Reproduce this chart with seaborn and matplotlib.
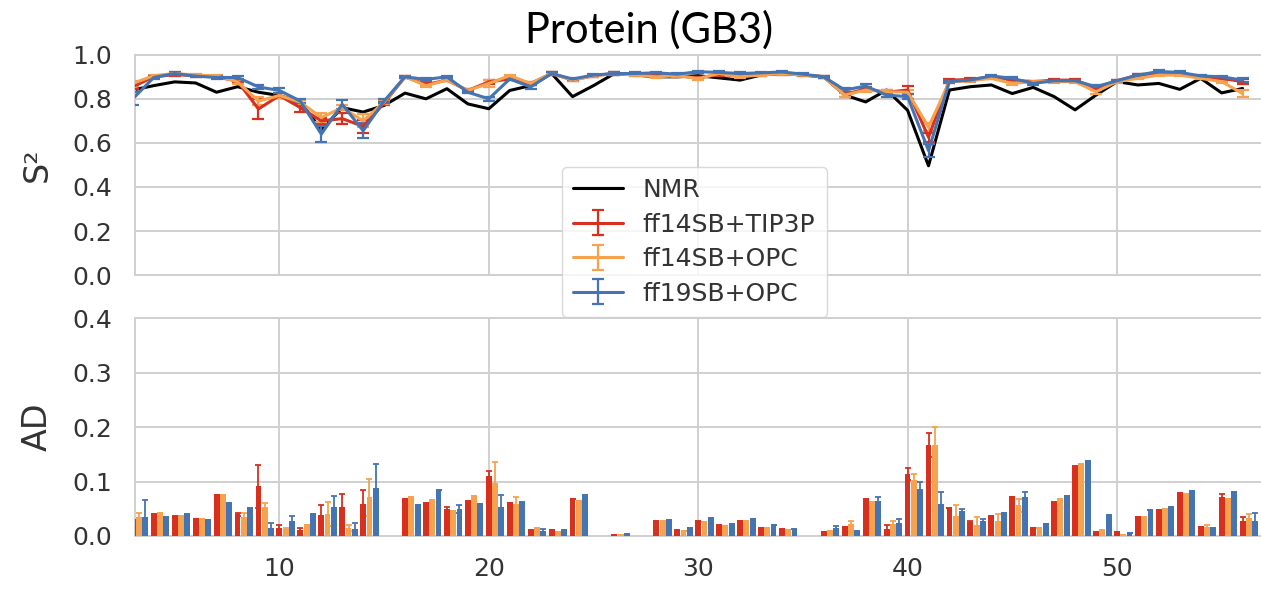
import numpy as np
import pandas as pd
import matplotlib
matplotlib.use("Agg")
import matplotlib.pyplot as plt
import seaborn as sns

# ---------------- data ----------------
residues = list(range(3, 57))

s2_nmr = [0.84, 0.86, 0.877, 0.872, 0.83, 0.855, 0.83, 0.815, 0.785, 0.66,
          0.76, 0.74, 0.77, 0.826, 0.80, 0.846, 0.777, 0.755, 0.838, 0.86,
          0.915, 0.81, 0.86, 0.915, 0.908, 0.90, 0.90, 0.905, 0.895, 0.885,
          0.908, 0.915, 0.908, 0.90, 0.817, 0.786, 0.84, 0.748, 0.496, 0.84,
          0.855, 0.863, 0.824, 0.852, 0.81, 0.75, 0.817, 0.878, 0.863, 0.87,
          0.843, 0.893, 0.827, 0.847]
s2_tip3p = [0.855, 0.90, 0.91, 0.905, 0.90, 0.88, 0.754, 0.815, 0.76, 0.70,
            0.71, 0.675, 0.78, 0.90, 0.865, 0.885, 0.838, 0.877, 0.89, 0.87,
            0.915, 0.885, 0.905, 0.915, 0.91, 0.905, 0.905, 0.895, 0.91, 0.905,
            0.91, 0.915, 0.908, 0.90, 0.82, 0.845, 0.83, 0.84, 0.626, 0.885,
            0.888, 0.90, 0.885, 0.878, 0.885, 0.885, 0.848, 0.882, 0.908, 0.915,
            0.915, 0.90, 0.893, 0.878]
s2_opc14 = [0.87, 0.905, 0.915, 0.908, 0.905, 0.877, 0.79, 0.815, 0.785, 0.715,
            0.76, 0.70, 0.785, 0.90, 0.86, 0.885, 0.838, 0.87, 0.905, 0.87,
            0.915, 0.885, 0.905, 0.915, 0.908, 0.90, 0.905, 0.892, 0.915, 0.90,
            0.908, 0.915, 0.908, 0.90, 0.817, 0.84, 0.832, 0.83, 0.672, 0.878,
            0.882, 0.893, 0.87, 0.878, 0.878, 0.878, 0.832, 0.878, 0.893, 0.908,
            0.908, 0.893, 0.878, 0.824]
s2_opc19 = [0.80, 0.897, 0.915, 0.903, 0.897, 0.897, 0.854, 0.838, 0.79, 0.64,
            0.775, 0.655, 0.79, 0.90, 0.888, 0.90, 0.83, 0.80, 0.89, 0.854,
            0.915, 0.89, 0.908, 0.915, 0.915, 0.918, 0.912, 0.923, 0.92, 0.915,
            0.918, 0.922, 0.912, 0.90, 0.84, 0.858, 0.817, 0.81, 0.565, 0.878,
            0.885, 0.904, 0.893, 0.87, 0.882, 0.882, 0.855, 0.882, 0.908, 0.924,
            0.92, 0.904, 0.90, 0.885]

s2_err_tip3p = [0.01, 0.005, 0.005, 0.005, 0.005, 0.005, 0.045, 0.01, 0.02, 0.015,
                0.025, 0.03, 0.01, 0.005, 0.005, 0.005, 0.005, 0.01, 0.005, 0.005,
                0.005, 0.005, 0.005, 0.005, 0.005, 0.005, 0.005, 0.005, 0.005, 0.005,
                0.005, 0.005, 0.005, 0.005, 0.01, 0.01, 0.01, 0.02, 0.02, 0.005,
                0.005, 0.005, 0.005, 0.005, 0.005, 0.005, 0.01, 0.005, 0.005, 0.005,
                0.005, 0.005, 0.005, 0.01]
s2_err_opc14 = [0.01, 0.005, 0.005, 0.005, 0.005, 0.01, 0.02, 0.01, 0.01, 0.02,
                0.01, 0.03, 0.01, 0.005, 0.005, 0.005, 0.005, 0.015, 0.005, 0.005,
                0.005, 0.005, 0.005, 0.005, 0.005, 0.005, 0.005, 0.005, 0.005, 0.005,
                0.005, 0.005, 0.005, 0.005, 0.01, 0.01, 0.01, 0.01, 0.02, 0.005,
                0.005, 0.005, 0.005, 0.005, 0.005, 0.005, 0.01, 0.005, 0.005, 0.005,
                0.005, 0.005, 0.005, 0.015]
s2_err_opc19 = [0.03, 0.005, 0.005, 0.005, 0.005, 0.005, 0.01, 0.01, 0.01, 0.035,
                0.02, 0.035, 0.01, 0.005, 0.005, 0.005, 0.005, 0.01, 0.005, 0.01,
                0.005, 0.005, 0.005, 0.005, 0.005, 0.005, 0.005, 0.005, 0.005, 0.005,
                0.005, 0.005, 0.005, 0.005, 0.01, 0.01, 0.01, 0.01, 0.03, 0.005,
                0.005, 0.005, 0.005, 0.005, 0.005, 0.005, 0.01, 0.005, 0.005, 0.005,
                0.005, 0.005, 0.005, 0.01]

nan = np.nan
ad_tip3p = [0.03, 0.040, 0.037, 0.031, 0.075, 0.040, 0.091, 0.015, 0.011, 0.038,
            0.053, 0.059, nan, 0.068, 0.060, 0.050, 0.064, 0.111, 0.060, 0.011,
            0.011, 0.067, nan, 0.002, nan, 0.028, 0.011, 0.028, 0.020, 0.028,
            0.015, 0.012, nan, 0.007, 0.017, 0.068, 0.012, 0.113, 0.167, 0.051,
            0.025, 0.037, 0.071, 0.015, 0.062, 0.128, 0.008, 0.008, 0.034, 0.048,
            0.079, 0.017, 0.072, 0.028]
ad_opc14 = [0.034, 0.042, 0.037, 0.031, 0.075, 0.034, 0.054, 0.012, 0.020, 0.040,
            0.015, 0.071, nan, 0.071, 0.066, 0.045, 0.074, 0.098, 0.059, 0.015,
            0.008, 0.064, nan, 0.002, nan, 0.027, 0.009, 0.025, 0.019, 0.027,
            0.015, 0.011, nan, 0.009, 0.022, 0.062, 0.022, 0.102, 0.167, 0.037,
            0.020, 0.028, 0.056, 0.015, 0.068, 0.133, 0.011, 0.001, 0.034, 0.050,
            0.077, 0.017, 0.068, 0.033]
ad_opc19 = [0.034, 0.034, 0.040, 0.030, 0.060, 0.051, 0.015, 0.027, 0.040, 0.054,
            0.012, 0.089, nan, 0.056, 0.084, 0.050, 0.058, 0.054, 0.062, 0.009,
            0.011, 0.075, nan, 0.003, nan, 0.029, 0.015, 0.033, 0.022, 0.032,
            0.020, 0.012, nan, 0.015, 0.009, 0.065, 0.023, 0.087, 0.059, 0.046,
            0.028, 0.043, 0.071, 0.022, 0.074, 0.138, 0.039, 0.005, 0.048, 0.053,
            0.082, 0.015, 0.080, 0.028]

ad_err_tip3p = [0.0, 0.0, 0.0, 0.0, 0.0, 0.003, 0.039, 0.006, 0.004, 0.018,
                0.024, 0.026, nan, 0.0, 0.0, 0.003, 0.0, 0.008, 0.0, 0.0,
                0.0, 0.0, nan, 0.0, nan, 0.0, 0.0, 0.0, 0.0, 0.0,
                0.0, 0.0, nan, 0.0, 0.0, 0.0, 0.009, 0.011, 0.022, 0.0,
                0.003, 0.0, 0.0, 0.0, 0.0, 0.0, 0.0, 0.0, 0.0, 0.0,
                0.0, 0.0, 0.005, 0.007]
ad_err_opc14 = [0.009, 0.0, 0.0, 0.0, 0.0, 0.009, 0.007, 0.003, 0.0, 0.022,
                0.005, 0.034, nan, 0.0, 0.0, 0.0, 0.0, 0.038, 0.012, 0.0,
                0.0, 0.0, nan, 0.0, nan, 0.0, 0.0, 0.0, 0.0, 0.0,
                0.0, 0.0, nan, 0.0, 0.006, 0.0, 0.006, 0.012, 0.033, 0.019,
                0.015, 0.013, 0.012, 0.0, 0.0, 0.0, 0.0, 0.0, 0.0, 0.0,
                0.0, 0.003, 0.0, 0.008]
ad_err_opc19 = [0.032, 0.0, 0.0, 0.0, 0.0, 0.0, 0.009, 0.010, 0.0, 0.020,
                0.011, 0.043, nan, 0.0, 0.0, 0.007, 0.0, 0.021, 0.0, 0.003,
                0.0, 0.0, nan, 0.0, nan, 0.0, 0.0, 0.0, 0.0, 0.0,
                0.0, 0.0, nan, 0.003, 0.0, 0.007, 0.009, 0.012, 0.021, 0.003,
                0.003, 0.0, 0.009, 0.0, 0.0, 0.0, 0.0, 0.0, 0.0, 0.0,
                0.0, 0.0, 0.0, 0.014]

series_names = ["ff14SB+TIP3P", "ff14SB+OPC", "ff19SB+OPC"]
xticks = [10, 20, 30, 40, 50]

# ---------------- style ----------------
sns.set_theme(style="whitegrid")
plt.rcParams["font.family"] = ["DejaVu Sans"]
plt.rcParams["grid.color"] = "#d0d0d0"
plt.rcParams["grid.linewidth"] = 1.4
plt.rcParams["axes.edgecolor"] = "#d0d0d0"
plt.rcParams["axes.linewidth"] = 1.4

colors = ["#d7301f", "#f6a24e", "#4574b3"]

fig = plt.figure(figsize=(12.61, 5.89), dpi=100)
ax1 = fig.add_axes([0.107, 0.533, 0.895, 0.374])
ax2 = fig.add_axes([0.107, 0.090, 0.895, 0.370])

# ---------------- top: S2 ----------------
sns.lineplot(x=residues, y=s2_nmr, ax=ax1, color="black", lw=2.2,
             label="NMR", zorder=2)
for name, vals, errs, c in zip(series_names,
                               [s2_tip3p, s2_opc14, s2_opc19],
                               [s2_err_tip3p, s2_err_opc14, s2_err_opc19],
                               colors):
    ax1.errorbar(residues, vals, yerr=errs, color=c, lw=2.2, elinewidth=1.6,
                 capsize=4, capthick=1.6, label=name, zorder=3)

ax1.set_xlim(3.1, 57)
ax1.set_ylim(0, 1.0)
ax1.set_yticks([0.0, 0.2, 0.4, 0.6, 0.8, 1.0])
ax1.set_xticks(xticks)
ax1.set_xticklabels([])
ax1.tick_params(axis="y", labelsize=18, colors="#333333", pad=10.5)
ax1.set_ylabel("S²", fontsize=24, color="#333333")
ax1.yaxis.set_label_coords(-0.072, 0.5)
leg = ax1.legend(loc="upper left", bbox_to_anchor=(0.367, 0.548), fontsize=18,
                 frameon=True, labelspacing=0.42, handlelength=2.0,
                 borderpad=0.45)
leg.get_frame().set_edgecolor("#d0d0d0")
for t in leg.get_texts():
    t.set_color("#333333")

# ---------------- bottom: AD ----------------
res_arr = np.array(residues, dtype=float)
width = 0.28
for i, (vals, errs, c) in enumerate(zip([ad_tip3p, ad_opc14, ad_opc19],
                                        [ad_err_tip3p, ad_err_opc14, ad_err_opc19],
                                        colors)):
    ax2.bar(res_arr + 0.3 * i, vals, width=width, color=c, linewidth=0,
            yerr=errs, error_kw=dict(ecolor=c, elinewidth=1.3, capsize=2.5,
                                     capthick=1.3), zorder=3)

ax2.set_xlim(3.1, 57)
ax2.set_ylim(0, 0.4)
ax2.set_yticks([0.0, 0.1, 0.2, 0.3, 0.4])
ax2.set_xticks(xticks)
ax2.tick_params(axis="y", labelsize=18, colors="#333333", pad=10.5)
ax2.tick_params(axis="x", labelsize=18, colors="#333333", pad=9)
ax2.set_ylabel("AD", fontsize=24, color="#333333")
ax2.yaxis.set_label_coords(-0.072, 0.5)

fig.text(0.515, 0.927, "Protein (GB3)", ha="center", va="baseline",
         fontsize=30, family=["Lato", "DejaVu Sans"], color="black")

fig.savefig("out.png", dpi=100)
